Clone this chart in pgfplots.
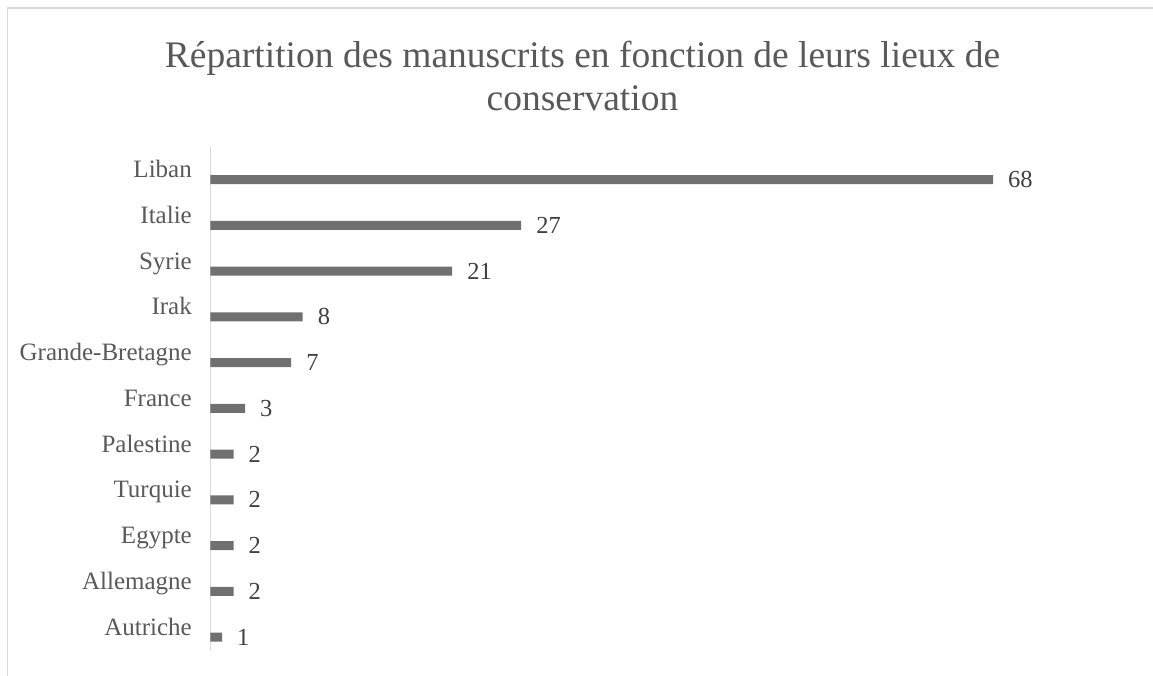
\documentclass[border=0pt]{standalone}
\usepackage{pgfplots}
\pgfplotsset{compat=1.18}
\usepackage{fontspec}
\setmainfont{Liberation Serif}
\definecolor{barc}{HTML}{707070}
\definecolor{txtc}{HTML}{595959}
\definecolor{valc}{HTML}{404040}
\definecolor{brd}{HTML}{D9D9D9}
\begin{document}
\begin{tikzpicture}[x=1pt,y=1pt]
\useasboundingbox (0,0) rectangle (1153,675);
\draw[brd, line width=1.2pt] (7.5,-5) -- (7.5,667) -- (1160,667);
\node[text=txtc, font=\fontsize{37.5}{44}\selectfont, anchor=base] at (582.5,607) {Répartition des manuscrits en fonction de leurs lieux de};
\node[text=txtc, font=\fontsize{37.5}{44}\selectfont, anchor=base] at (582.5,564) {conservation};
\begin{axis}[
  at={(210.5pt,15.1pt)}, anchor=south west,
  scale only axis, width=782.5pt, height=503.25pt,
  xbar, bar width=9pt, bar shift=0pt,
  xmin=0, xmax=68, ymin=-0.5, ymax=10.5,
  clip=false,
  axis line style={draw=none},
  xtick=\empty,
  ytick={0,...,10},
  yticklabels={Autriche,Allemagne,Egypte,Turquie,Palestine,France,Grande-Bretagne,Irak,Syrie,Italie,Liban},
  major tick length=0pt,
  yticklabel style={anchor=base east, inner sep=0pt, xshift=-18.5pt, yshift=2pt, text=txtc, font=\fontsize{25}{28}\selectfont},
  /pgf/number format/assume math mode=true,
  nodes near coords,
  every node near coord/.append style={anchor=west, inner sep=0pt, xshift=15pt, text=valc, font=\fontsize{24.5}{28}\selectfont},
]
\draw[brd, line width=1.2pt] (axis cs:0,-0.28) -- (axis cs:0,10.71);
\addplot[fill=barc, draw=none] coordinates {
(1,0) (2,1) (2,2) (2,3) (2,4) (3,5) (7,6) (8,7) (21,8) (27,9) (68,10)
};
\end{axis}
\end{tikzpicture}
\end{document}
